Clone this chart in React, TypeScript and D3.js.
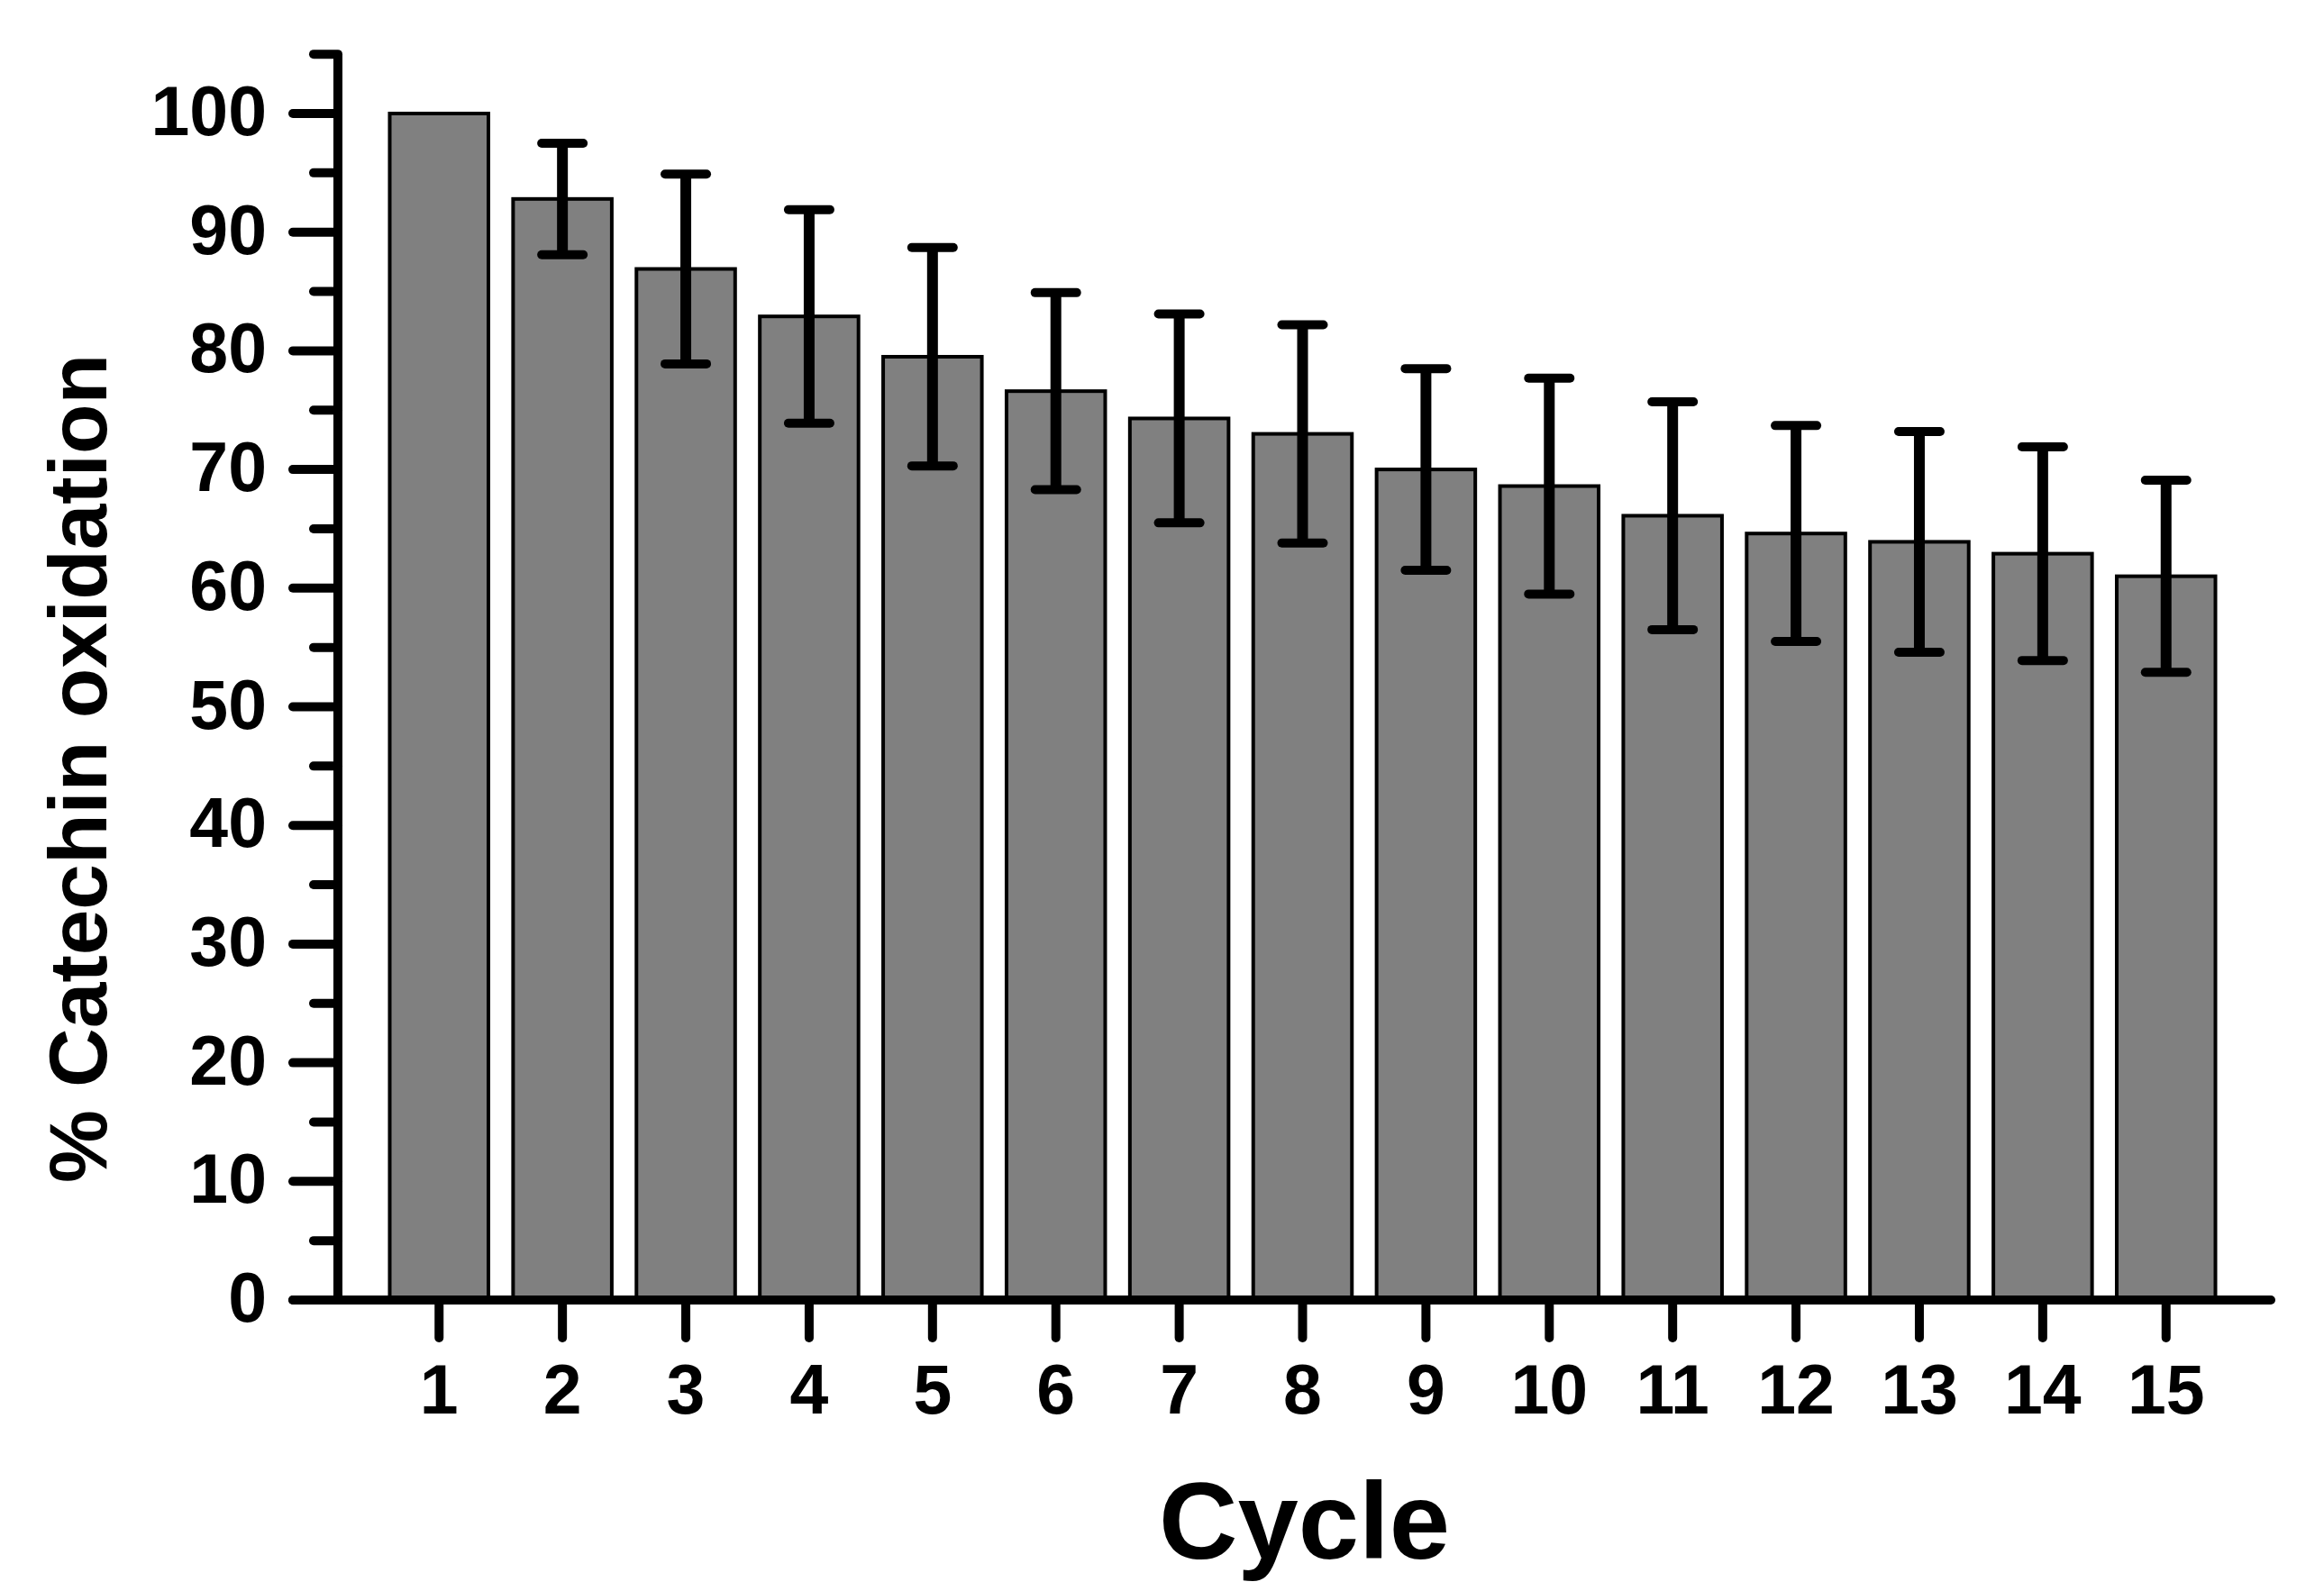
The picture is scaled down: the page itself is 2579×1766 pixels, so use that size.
import React from "react";
import { scaleBand, scaleLinear, range } from "d3";

const cycles = ["1", "2", "3", "4", "5", "6", "7", "8", "9", "10", "11", "12", "13", "14", "15"];
const oxidation = [100, 92.8, 86.9, 82.9, 79.5, 76.6, 74.3, 73.0, 70.0, 68.6, 66.1, 64.6, 63.9, 62.9, 61.0];
const errors = [0, 4.7, 8.0, 9.0, 9.2, 8.3, 8.8, 9.2, 8.5, 9.1, 9.6, 9.1, 9.3, 9.0, 8.1];
const yMajorTicks = [0, 10, 20, 30, 40, 50, 60, 70, 80, 90, 100];

const W = 2579;
const H = 1766;
const axisX = 375;
const axisRight = 2520;
const axisY = 1443;
const font = "'Liberation Sans', Arial, Helvetica, sans-serif";

const App: React.FC = () => {
  const x = scaleBand<string>()
    .domain(cycles)
    .range([axisX, axisRight - 4])
    .paddingInner(0.2)
    .paddingOuter(0.42);
  const y = scaleLinear().domain([0, 100]).range([axisY, 126]);
  const minorTicks = range(5, 106, 10);
  const bw = x.bandwidth();

  return (
    <div style={{ position: "absolute", left: 0, top: 0 }}>
      <svg width={W} height={H} style={{ display: "block", background: "#fff" }}>
        {/* bars */}
        {cycles.map((c, i) => (
          <rect
            key={c}
            x={x(c)}
            y={y(oxidation[i])}
            width={bw}
            height={axisY - y(oxidation[i])}
            fill="#808080"
            stroke="#000"
            strokeWidth={4}
          />
        ))}

        {/* error bars */}
        {cycles.map((c, i) => {
          if (!errors[i]) return null;
          const cx = (x(c) ?? 0) + bw / 2;
          const top = y(oxidation[i] + errors[i]);
          const bot = y(oxidation[i] - errors[i]);
          return (
            <g key={"e" + c} stroke="#000" strokeLinecap="round">
              <line x1={cx} x2={cx} y1={top} y2={bot} strokeWidth={12} strokeLinecap="butt" />
              <line x1={cx - 23} x2={cx + 23} y1={top} y2={top} strokeWidth={10} />
              <line x1={cx - 23} x2={cx + 23} y1={bot} y2={bot} strokeWidth={10} />
            </g>
          );
        })}

        {/* y axis */}
        <g stroke="#000" strokeLinecap="round">
          <line x1={axisX} x2={axisX} y1={y(105)} y2={axisY} strokeWidth={10} strokeLinecap="butt" />
          {yMajorTicks.map((t) => (
            <line key={t} x1={axisX - 50} x2={axisX} y1={y(t)} y2={y(t)} strokeWidth={10} />
          ))}
          {minorTicks.map((t) => (
            <line key={"m" + t} x1={axisX - 27} x2={axisX} y1={y(t)} y2={y(t)} strokeWidth={10} />
          ))}
        </g>
        {yMajorTicks.map((t) => (
          <text
            key={"l" + t}
            x={296}
            y={y(t) + 24}
            textAnchor="end"
            fontFamily={font}
            fontWeight="bold"
            fontSize={77}
          >
            {t}
          </text>
        ))}

        {/* x axis */}
        <g stroke="#000" strokeLinecap="round">
          <line x1={axisX - 50} x2={axisRight} y1={axisY} y2={axisY} strokeWidth={10} />
          {cycles.map((c) => {
            const cx = (x(c) ?? 0) + bw / 2;
            return <line key={"t" + c} x1={cx} x2={cx} y1={axisY} y2={axisY + 42} strokeWidth={10} />;
          })}
        </g>
        {cycles.map((c) => (
          <text
            key={"xl" + c}
            x={(x(c) ?? 0) + bw / 2}
            y={1569}
            textAnchor="middle"
            fontFamily={font}
            fontWeight="bold"
            fontSize={77}
          >
            {c}
          </text>
        ))}

        {/* axis titles */}
        <text
          x={(axisX + axisRight) / 2}
          y={1730}
          textAnchor="middle"
          fontFamily={font}
          fontWeight="bold"
          fontSize={121}
        >
          Cycle
        </text>
        <text
          transform={`translate(118, 853) rotate(-90)`}
          textAnchor="middle"
          fontFamily={font}
          fontWeight="bold"
          fontSize={91}
        >
          % Catechin oxidation
        </text>
      </svg>
    </div>
  );
};

export default App;
